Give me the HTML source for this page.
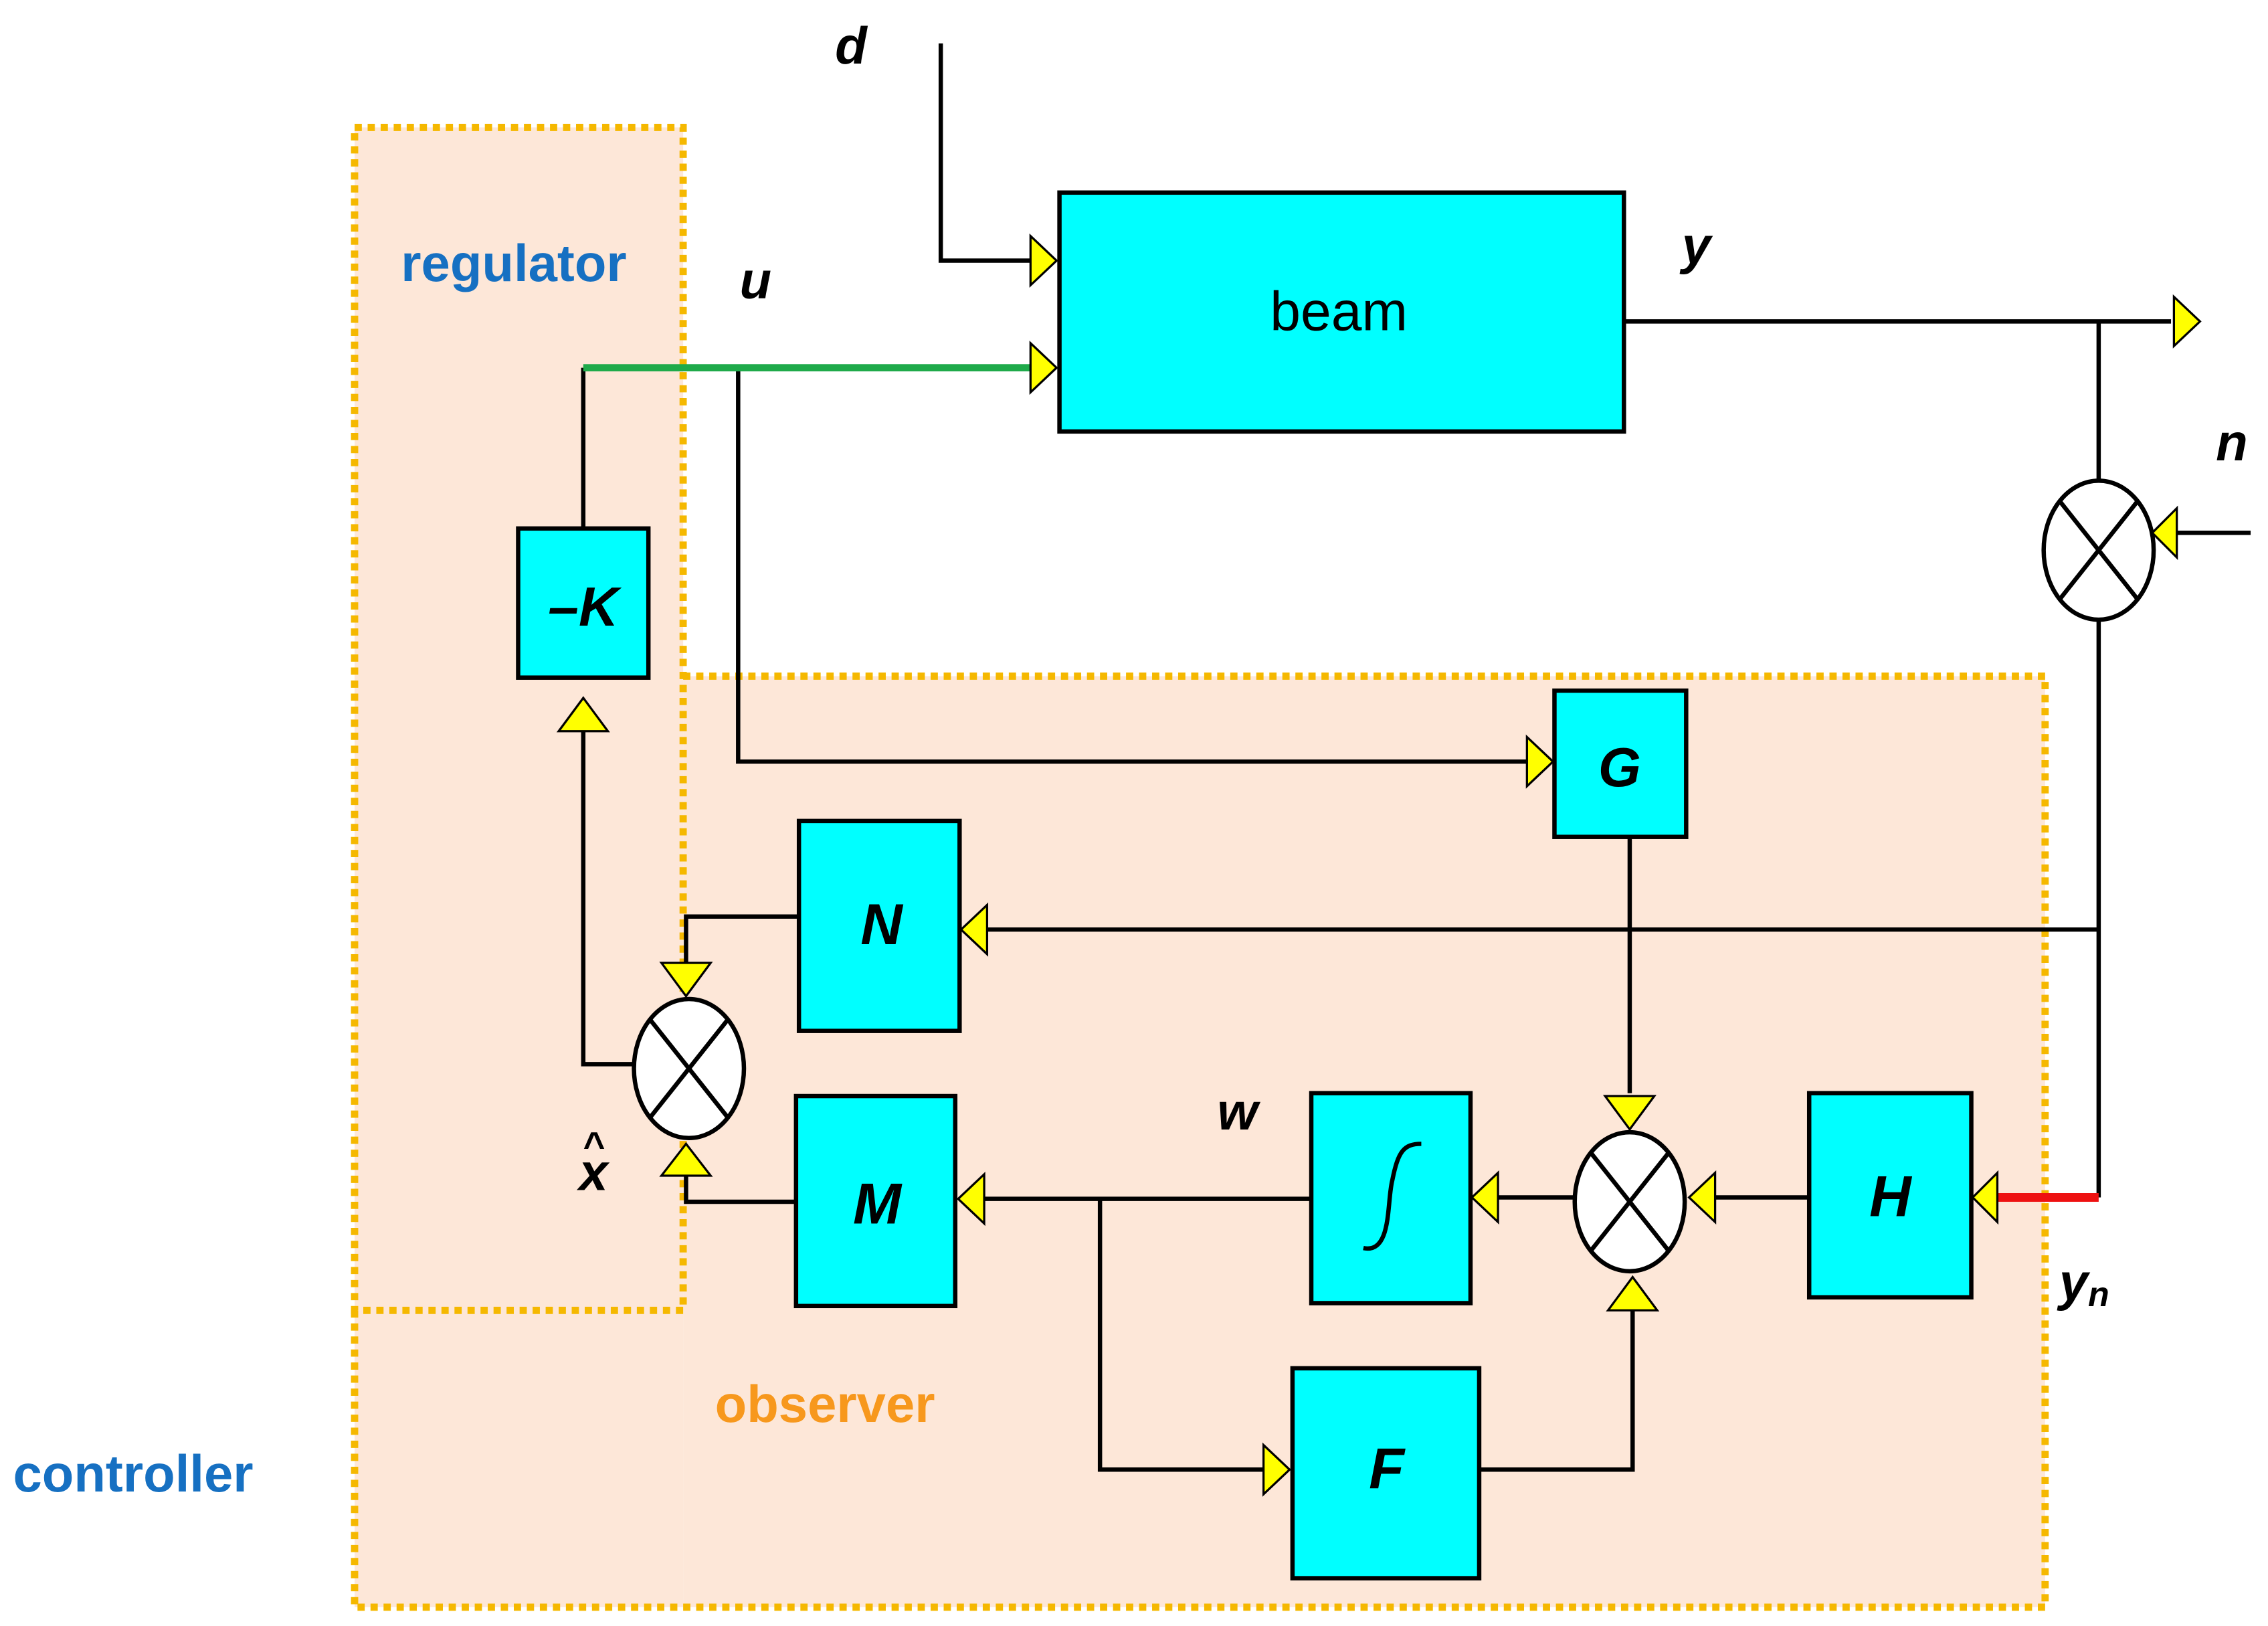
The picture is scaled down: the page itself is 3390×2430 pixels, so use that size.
<!DOCTYPE html>
<html><head><meta charset="utf-8"><style>
html,body{margin:0;padding:0;background:#fff;}
svg{display:block;}
text{font-family:"Liberation Sans",sans-serif;}
</style></head><body>
<svg width="3390" height="2430" viewBox="0 0 1567 1123" preserveAspectRatio="none" xmlns="http://www.w3.org/2000/svg">
<rect width="1567" height="1123" fill="#fff"/>
<rect x="245" y="88" width="227" height="1022" fill="#fde7d8"/>
<rect x="472" y="467" width="941" height="643" fill="#fde7d8"/>
<g fill="none" stroke="#f5b800" stroke-width="5" stroke-dasharray="5,4">
<rect x="245" y="88" width="227" height="817"/>
<polyline points="472,467 1413,467 1413,1110 245,1110 245,905"/>
</g>
<g fill="none" stroke="#000" stroke-width="3">
<polyline points="650,30 650,180 712,180"/>
<polyline points="403,365 403,254"/>
<polyline points="510,254 510,526 1055,526"/>
<polyline points="1122,222 1500,222"/>
<polyline points="1450,222 1450,332"/>
<polyline points="1555,368 1500,368"/>
<polyline points="1450,428 1450,827"/>
<polyline points="1450,642 680,642"/>
<polyline points="1250,827 1185,827"/>
<polyline points="1126,578 1126,755"/>
<polyline points="1088,827 1035,827"/>
<polyline points="906,828 680,828"/>
<polyline points="760,828 760,1015 873,1015"/>
<polyline points="1022,1015 1128,1015 1128,905"/>
<polyline points="550,830 474,830 474,812"/>
<polyline points="552,633 474,633 474,665"/>
<polyline points="438,735 403,735 403,505"/>
</g>
<line x1="403" y1="254" x2="712" y2="254" stroke="#1faa4a" stroke-width="5"/>
<line x1="1380" y1="827" x2="1450" y2="827" stroke="#ee1111" stroke-width="6"/>
<g fill="#00ffff" stroke="#000" stroke-width="3">
<rect x="732" y="133" width="390" height="165"/>
<rect x="358" y="365" width="90" height="103"/>
<rect x="1074" y="477" width="91" height="101"/>
<rect x="552" y="567" width="111" height="145"/>
<rect x="550" y="757" width="110" height="145"/>
<rect x="906" y="755" width="110" height="145"/>
<rect x="1250" y="755" width="112" height="141"/>
<rect x="893" y="945" width="129" height="145"/>
</g>
<path d="M942,862 C962,866 958,830 962,815 C966,795 970,790 982,790" fill="none" stroke="#000" stroke-width="3"/>
<g fill="#fff" stroke="#000" stroke-width="3">
<ellipse cx="1450" cy="380" rx="38" ry="48"/>
<ellipse cx="476" cy="738" rx="38" ry="48"/>
<ellipse cx="1126" cy="830" rx="38" ry="48"/>
</g>
<g stroke="#000" stroke-width="3">
<line x1="1423" y1="346" x2="1477" y2="414"/><line x1="1477" y1="346" x2="1423" y2="414"/>
<line x1="449" y1="704" x2="503" y2="772"/><line x1="503" y1="704" x2="449" y2="772"/>
<line x1="1099" y1="796" x2="1153" y2="864"/><line x1="1153" y1="796" x2="1099" y2="864"/>
</g>
<g fill="#ffff00" stroke="#000" stroke-width="1.5">
<polygon points="712,163 730,180 712,197"/>
<polygon points="712,237 730,254 712,271"/>
<polygon points="1055,509 1073,526 1055,543"/>
<polygon points="1502,205 1520,222 1502,239"/>
<polygon points="1504,351 1487,368 1504,385"/>
<polygon points="682,625 664,642 682,659"/>
<polygon points="1380,810 1363,827 1380,844"/>
<polygon points="1185,810 1167,827 1185,844"/>
<polygon points="1109,757 1126,780 1143,757"/>
<polygon points="1035,810 1017,827 1035,844"/>
<polygon points="680,811 662,828 680,845"/>
<polygon points="873,998 891,1015 873,1032"/>
<polygon points="1111,905 1128,882 1145,905"/>
<polygon points="457,812 474,790 491,812"/>
<polygon points="457,665 474,688 491,665"/>
<polygon points="386,505 403,482 420,505"/>
</g>
<g font-weight="bold" font-style="italic" font-size="36" fill="#000" text-anchor="middle">
<text x="588" y="44">d</text>
<text x="522" y="206">u</text>
<text x="1172" y="182">y</text>
<text x="1542" y="318">n</text>
<text x="855" y="780">w</text>
<text x="410" y="822">x</text>
<text x="410" y="800" font-size="26">^</text>
<text x="1440" y="898">y<tspan font-size="24" dy="4">n</tspan></text>
<text x="403" y="432" font-size="38">–K</text>
<text x="1119" y="543" font-size="38">G</text>
<text x="609" y="652" font-size="40">N</text>
<text x="606" y="845" font-size="40">M</text>
<text x="1306" y="840" font-size="40">H</text>
<text x="958" y="1028" font-size="40">F</text>
</g>
<text x="925" y="228" font-size="38" text-anchor="middle" fill="#000">beam</text>
<g font-weight="bold" font-size="36" text-anchor="middle">
<text x="355" y="194" fill="#1670c2">regulator</text>
<text x="570" y="982" fill="#f7981d">observer</text>
<text x="92" y="1030" fill="#1670c2">controller</text>
</g>
</svg>
</body></html>
